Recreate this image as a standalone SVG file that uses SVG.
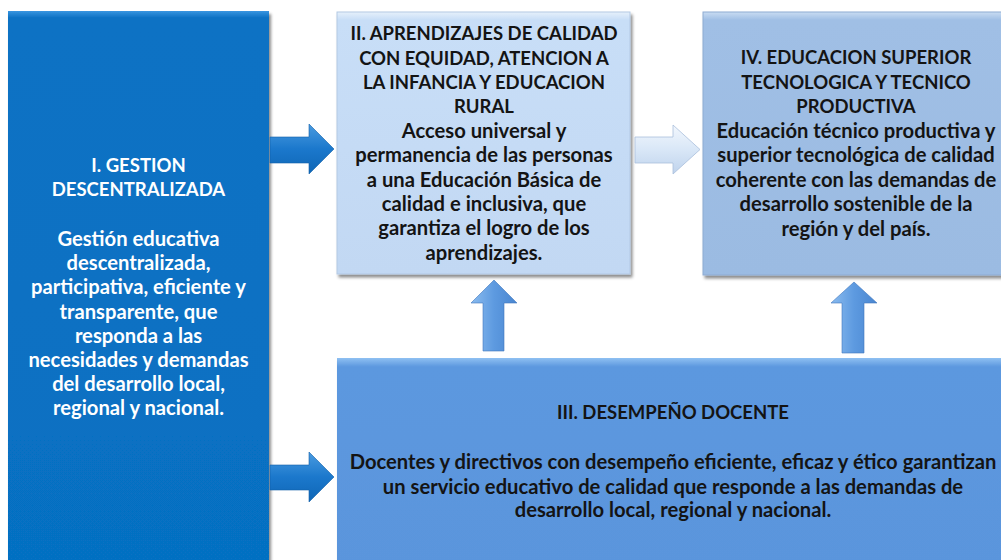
<svg xmlns="http://www.w3.org/2000/svg" width="1001" height="560" viewBox="0 0 1001 560">
  <style>
    text { font-family: Lato, "Noto Sans", "Liberation Sans", sans-serif; font-weight: bold; text-anchor: middle; }
    .w { fill: #ffffff; }
    .k { fill: #141414; }
    .t { font-size: 18.5px; }
    .b { font-size: 20.2px; }
  </style>
  <defs>
    <linearGradient id="gLeft" x1="0" y1="0" x2="0" y2="1">
      <stop offset="0" stop-color="#3a95e0"/>
      <stop offset="0.012" stop-color="#0a72c4"/>
      <stop offset="1" stop-color="#0670c2"/>
    </linearGradient>
    <linearGradient id="gII" x1="0" y1="0" x2="0" y2="1">
      <stop offset="0" stop-color="#e6f0fb"/>
      <stop offset="0.03" stop-color="#c8def7"/>
      <stop offset="1" stop-color="#c2d8f3"/>
    </linearGradient>
    <linearGradient id="gIV" x1="0" y1="0" x2="0" y2="1">
      <stop offset="0" stop-color="#c9dcf2"/>
      <stop offset="0.03" stop-color="#a0bfe5"/>
      <stop offset="1" stop-color="#9bbbe2"/>
    </linearGradient>
    <linearGradient id="gIII" x1="0" y1="0" x2="0" y2="1">
      <stop offset="0" stop-color="#8fc0f2"/>
      <stop offset="0.04" stop-color="#5c98df"/>
      <stop offset="1" stop-color="#5a95dc"/>
    </linearGradient>
    <linearGradient id="gArrL" x1="0" y1="0" x2="0" y2="1">
      <stop offset="0" stop-color="#4a9be0"/>
      <stop offset="0.5" stop-color="#1b78cc"/>
      <stop offset="1" stop-color="#0f66b5"/>
    </linearGradient>
    <linearGradient id="gArrM" x1="0" y1="0" x2="0" y2="1">
      <stop offset="0" stop-color="#f2f7fd"/>
      <stop offset="0.5" stop-color="#d9e7f7"/>
      <stop offset="1" stop-color="#bfd3ec"/>
    </linearGradient>
    <linearGradient id="gArrU" x1="0" y1="0" x2="1" y2="0">
      <stop offset="0" stop-color="#8bbcef"/>
      <stop offset="0.5" stop-color="#5d9ae0"/>
      <stop offset="1" stop-color="#4a86d0"/>
    </linearGradient>
    <filter id="sh" x="-5%" y="-5%" width="115%" height="115%">
      <feDropShadow dx="2" dy="3" stdDeviation="1.5" flood-color="#000000" flood-opacity="0.45"/>
    </filter>
  </defs>

  <rect width="1001" height="560" fill="#ffffff"/>

  <g id="node-I">
    <rect x="8" y="11" width="261" height="560" fill="url(#gLeft)" filter="url(#sh)"/>
    <text class="w t" x="138.5" y="172">I. GESTION</text>
    <text class="w t" x="138.5" y="196">DESCENTRALIZADA</text>
    <text class="w b" x="138.5" y="246">Gestión educativa</text>
    <text class="w b" x="138.5" y="270">descentralizada,</text>
    <text class="w b" x="138.5" y="294">participativa, eficiente y</text>
    <text class="w b" x="138.5" y="319">transparente, que</text>
    <text class="w b" x="138.5" y="343">responda a las</text>
    <text class="w b" x="138.5" y="367">necesidades y demandas</text>
    <text class="w b" x="138.5" y="391">del desarrollo local,</text>
    <text class="w b" x="138.5" y="415">regional y nacional.</text>
  </g>

  <g id="node-II">
    <rect x="337" y="12" width="293" height="262" fill="url(#gII)" stroke="#b3c9e4" stroke-width="1" filter="url(#sh)"/>
    <text class="k t" x="484" y="40">II. APRENDIZAJES DE CALIDAD</text>
    <text class="k t" x="484" y="64.5">CON EQUIDAD, ATENCION A</text>
    <text class="k t" x="484" y="89">LA INFANCIA Y EDUCACION</text>
    <text class="k t" x="484" y="113">RURAL</text>
    <text class="k b" x="484" y="137.5">Acceso universal y</text>
    <text class="k b" x="484" y="162">permanencia de las personas</text>
    <text class="k b" x="484" y="186.5">a una Educación Básica de</text>
    <text class="k b" x="484" y="211">calidad e inclusiva, que</text>
    <text class="k b" x="484" y="235">garantiza el logro de los</text>
    <text class="k b" x="484" y="259.5">aprendizajes.</text>
  </g>

  <g id="node-IV">
    <rect x="703" y="12" width="310" height="263" fill="url(#gIV)" stroke="#8eabd2" stroke-width="1" filter="url(#sh)"/>
    <text class="k t" x="856" y="64">IV. EDUCACION SUPERIOR</text>
    <text class="k t" x="856" y="88.5">TECNOLOGICA Y TECNICO</text>
    <text class="k t" x="856" y="113">PRODUCTIVA</text>
    <text class="k b" x="856" y="137.5">Educación técnico productiva y</text>
    <text class="k b" x="856" y="162">superior tecnológica de calidad</text>
    <text class="k b" x="856" y="186.5">coherente con las demandas de</text>
    <text class="k b" x="856" y="211">desarrollo sostenible de la</text>
    <text class="k b" x="856" y="235.5">región y del país.</text>
  </g>

  <g id="node-III">
    <rect x="337" y="358" width="676" height="220" fill="url(#gIII)" filter="url(#sh)"/>
    <text class="k t" x="673" y="419">III. DESEMPEÑO DOCENTE</text>
    <text class="k b" x="673" y="469">Docentes y directivos con desempeño eficiente, eficaz y ético garantizan</text>
    <text class="k b" x="673" y="493.5">un servicio educativo de calidad que responde a las demandas de</text>
    <text class="k b" x="673" y="517">desarrollo local, regional y nacional.</text>
  </g>

  <g id="connectors">
    <polygon points="270,137 309,137 309,124 334,149 309,174 309,163 270,163" fill="url(#gArrL)" stroke="#1060a8" stroke-width="0.6"/>
    <polygon points="270,465 309,465 309,452 334,477 309,502 309,490 270,490" fill="url(#gArrL)" stroke="#1060a8" stroke-width="0.6"/>
    <polygon points="635,137 673,137 673,125 700,149.5 673,174 673,163 635,163" fill="url(#gArrM)" stroke="#a9bfdc" stroke-width="0.8"/>
    <polygon points="494,280 517,303 504,303 504,351 483,351 483,303 471,303" fill="url(#gArrU)" stroke="#3f77bd" stroke-width="0.6"/>
    <polygon points="854,282 877,303 864,303 864,353 842,353 842,303 831,303" fill="url(#gArrU)" stroke="#3f77bd" stroke-width="0.6"/>
  </g>
</svg>
